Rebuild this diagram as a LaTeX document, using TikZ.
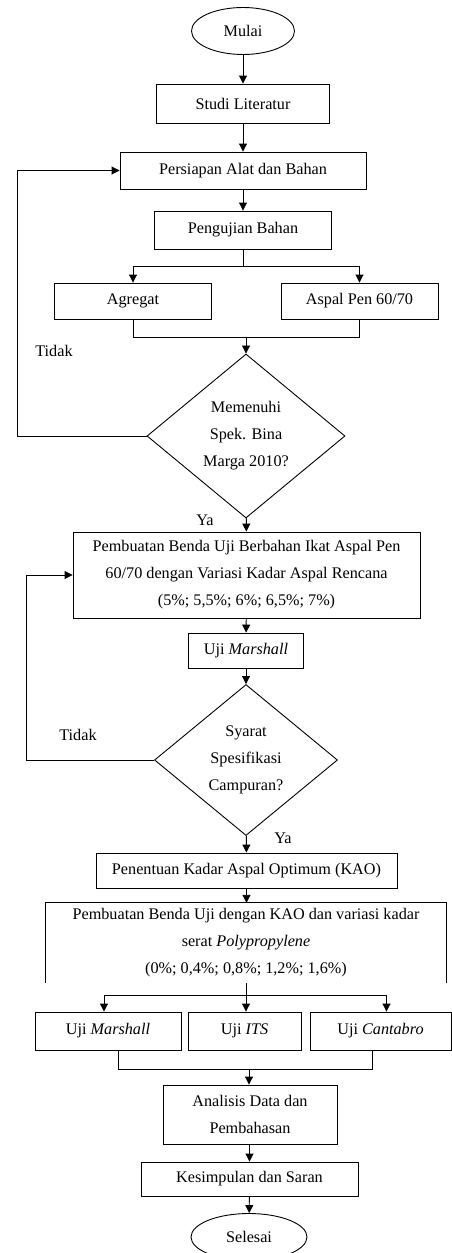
\documentclass[tikz,border=0pt]{standalone}
\usepackage{fontspec}
\setmainfont{Liberation Serif}
\usetikzlibrary{shapes,
	arrows.meta,
	positioning,
	calc}
\tikzstyle{bx}=[draw, line width=0.9pt, inner sep=0, align=center]
\tikzstyle{ell}=[draw, ellipse, line width=0.9pt, inner sep=0]
\tikzstyle{dec}=[draw, diamond, line width=0.9pt, inner sep=0, align=center]
\tikzstyle{ln}=[line width=0.9pt]
\tikzstyle{arr}=[line width=0.9pt, -{Triangle[length=8pt,width=8pt]}]
\tikzstyle{lbl}=[inner sep=0]

\begin{document}
\begin{tikzpicture}[x=1pt, y=-1pt, font=\fontsize{16.2}{27}\selectfont]
                \useasboundingbox (0,0) rectangle (452,1253);

                \node[ell, minimum width=103pt, minimum height=47pt] (mulai) at (243,31) {Mulai};
                \node[bx, minimum width=173pt, minimum height=39pt] (studi) at (243,103.5) {Studi Literatur};
                \node[bx, minimum width=246pt, minimum height=37pt] (persiapan) at (243,170.5) {Persiapan Alat dan Bahan};
                \node[bx, minimum width=177pt, minimum height=38pt] (pengujian) at (243,230) {Pengujian Bahan};
                \node[bx, minimum width=157pt, minimum height=36pt] (agregat) at (133,301) {Agregat};
                \node[bx, minimum width=157pt, minimum height=36pt] (aspal) at (359.5,301) {Aspal Pen 60/70};
                \node[dec, minimum width=198pt, minimum height=164pt] (spek) at (246,436) {Memenuhi\\Spek. Bina\\Marga 2010?};
                \node[bx, minimum width=347pt, minimum height=86pt] (benda) at (246.5,575) {Pembuatan Benda Uji Berbahan Ikat Aspal Pen\\60/70 dengan Variasi Kadar Aspal Rencana\\(5\%; 5,5\%; 6\%; 6,5\%; 7\%)};
                \node[bx, minimum width=115pt, minimum height=35pt] (ujim) at (246,650.5) {Uji \textit{Marshall}};
                \node[dec, minimum width=183pt, minimum height=151pt] (syarat) at (246,760) {Syarat\\Spesifikasi\\Campuran?};
                \node[bx, minimum width=301pt, minimum height=35pt] (kao) at (246.5,870.5) {Penentuan Kadar Aspal Optimum (KAO)};
                \node[inner sep=0, align=center, minimum width=400pt, minimum height=80pt] (bendakao) at (246,943) {Pembuatan Benda Uji dengan KAO dan variasi kadar\\serat \textit{Polypropylene}\\(0\%; 0,4\%; 0,8\%; 1,2\%; 1,6\%)};
                \node[bx, minimum width=146pt, minimum height=38pt] (ujimarshall) at (108,1031) {Uji \textit{Marshall}};
                \node[bx, minimum width=113pt, minimum height=38pt] (ujiits) at (244.5,1031) {Uji \textit{ITS}};
                \node[bx, minimum width=141pt, minimum height=38pt] (ujicantabro) at (380.5,1031) {Uji \textit{Cantabro}};
                \node[bx, minimum width=174pt, minimum height=59pt] (analisis) at (250,1114.5) {Analisis Data dan\\Pembahasan};
                \node[bx, minimum width=217pt, minimum height=34pt] (simpulan) at (249.5,1179) {Kesimpulan dan Saran};
                \node[ell, minimum width=116pt, minimum height=47pt] (selesai) at (249,1237) {Selesai};

                \node[lbl] (tidak1) at (54,351) {Tidak};
                \node[lbl] (ya1) at (205,520) {Ya};
                \node[lbl] (tidak2) at (78,735) {Tidak};
                \node[lbl] (ya2) at (283,838) {Ya};

                \coordinate (split1) at (243,266);
                \coordinate (join1) at (246,337);
                \coordinate (loop1) at (17,436);
                \coordinate (loop2) at (26,760);
                \coordinate (split2) at (246,995);
                \coordinate (join2) at (249,1069);

                \draw[ln] (bendakao.south west) -- (bendakao.north west) -- (bendakao.north east) -- (bendakao.south east);

                \draw[arr] (mulai) -- (studi);
                \draw[arr] (studi) -- (persiapan);
                \draw[arr] (persiapan) -- (pengujian);
                \draw[ln] (pengujian) -- (split1);
                \draw[arr] (split1) -| (agregat);
                \draw[arr] (split1) -| (aspal);
                \draw[ln] (agregat) |- (join1);
                \draw[ln] (aspal) |- (join1);
                \draw[arr] (join1) -- (spek);
                \draw[arr] (spek) -- (loop1) |- (persiapan);
                \draw[arr] (spek) -- (benda);
                \draw[arr] (benda) -- (ujim);
                \draw[arr] (ujim) -- (syarat);
                \draw[arr] (syarat) -- (loop2) |- (benda);
                \draw[arr] (syarat) -- (kao);
                \draw[arr] (kao) -- (bendakao.north -| kao);
                \draw[arr] (bendakao.south -| split2) -- (ujiits.north -| split2);
                \draw[arr] (split2) -| ([xshift=-4pt]ujimarshall.north);
                \draw[arr] (split2) -| ([xshift=6pt]ujicantabro.north);
                \draw[ln] ([xshift=10pt]ujimarshall.south) |- (join2);
                \draw[ln] ([xshift=-8pt]ujicantabro.south) |- (join2);
                \draw[arr] (join2) -- (analisis.north -| join2);
                \draw[arr] (analisis.south -| simpulan) -- (simpulan);
                \draw[arr] (simpulan) -- (selesai);
            \end{tikzpicture}
\end{document}
